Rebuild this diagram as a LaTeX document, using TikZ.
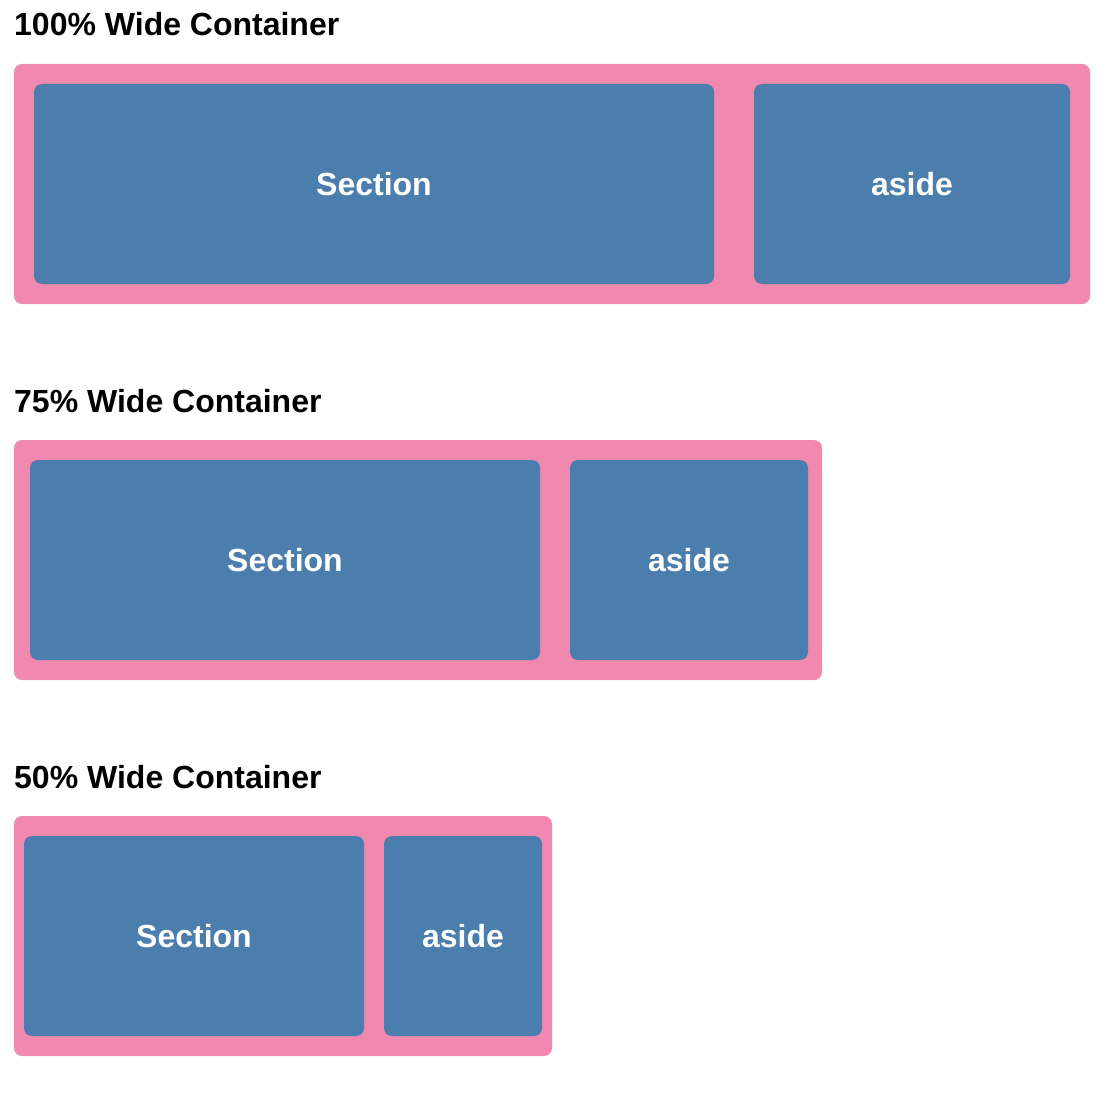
\documentclass[tikz,border=0pt]{standalone}
\usepackage{fontspec}
\setmainfont{Liberation Sans}
\definecolor{pinkbg}{HTML}{F088AF}
\definecolor{bluebox}{HTML}{4B7EAC}
\begin{document}
\begin{tikzpicture}[x=1pt,y=-1pt,
  heading/.style={anchor=base west,inner sep=0pt,font=\fontsize{32}{36}\selectfont\bfseries,text=black},
  cont/.style={fill=pinkbg,draw=none,rounded corners=8pt,inner sep=0pt},
  box/.style={fill=bluebox,draw=none,rounded corners=8pt,inner sep=0pt,text=white,font=\fontsize{32}{36}\selectfont\bfseries}]
\useasboundingbox (0,0) rectangle (1110,1102);
% 100%
\node[heading] (h1) at (14,36) {100\% Wide Container};
\node[cont,minimum width=1076pt,minimum height=240pt] (c1) at (552,184) {};
\node[box,minimum width=680pt,minimum height=200pt] (s1) at (374,184) {Section};
\node[box,minimum width=316pt,minimum height=200pt] (a1) at (912,184) {aside};
% 75%
\node[heading] (h2) at (14,412) {75\% Wide Container};
\node[cont,minimum width=808pt,minimum height=240pt] (c2) at (418,560) {};
\node[box,minimum width=510pt,minimum height=200pt] (s2) at (285,560) {Section};
\node[box,minimum width=238pt,minimum height=200pt] (a2) at (689,560) {aside};
% 50%
\node[heading] (h3) at (14,788) {50\% Wide Container};
\node[cont,minimum width=538pt,minimum height=240pt] (c3) at (283,936) {};
\node[box,minimum width=340pt,minimum height=200pt] (s3) at (194,936) {Section};
\node[box,minimum width=158pt,minimum height=200pt] (a3) at (463,936) {aside};
\end{tikzpicture}
\end{document}
